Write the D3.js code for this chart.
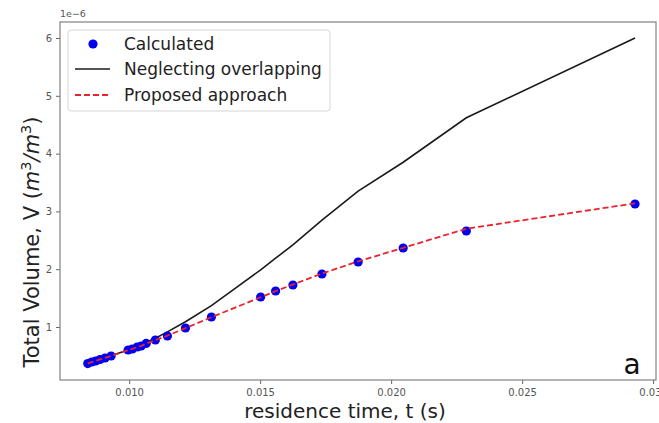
<!DOCTYPE html>
<html><head><meta charset="utf-8">
<script src="https://cdn.jsdelivr.net/npm/d3@7"></script>
<style>
html,body{margin:0;padding:0;background:#fff;}
svg{display:block;font-family:"DejaVu Sans",sans-serif;}
</style></head>
<body><svg id="c" width="659" height="423"></svg>
<script>
// residence time t (s)
const tCalc = [0.00842,0.00857,0.00872,0.00889,0.00908,0.00931,0.00996,0.01012,0.01031,0.01046,0.01065,0.01100,0.01146,0.01215,0.01314,0.01502,0.01559,0.01625,0.01736,0.01874,0.02046,0.02287,0.02931];
// Calculated volume (x1e-6)
const vCalc = [0.368,0.394,0.412,0.438,0.464,0.498,0.602,0.619,0.654,0.671,0.715,0.775,0.844,0.983,1.173,1.519,1.623,1.727,1.917,2.125,2.367,2.661,3.128];
// Proposed approach (x1e-6)
const vProp = [0.368,0.392,0.414,0.438,0.466,0.500,0.600,0.622,0.652,0.674,0.712,0.772,0.850,0.980,1.170,1.515,1.620,1.735,1.925,2.135,2.370,2.700,3.140];
// Neglecting overlapping (x1e-6)
const vNeg = [0.368,0.392,0.414,0.438,0.466,0.500,0.605,0.628,0.662,0.690,0.735,0.805,0.915,1.090,1.370,1.990,2.190,2.420,2.850,3.350,3.850,4.620,6.000];
const xTicks = [0.010,0.015,0.020,0.025,0.030];
const xTickLabels = ["0.010","0.015","0.020","0.025","0.030"];
const yTicks = [1,2,3,4,5,6];
const yTickLabels = ["1","2","3","4","5","6"];
const legendLabels = ["Calculated","Neglecting overlapping","Proposed approach"];

const svg = d3.select("#c");
const L=60,R=656,T=22,B=380;
const x = d3.scaleLinear().domain([0.00736,0.03011]).range([L,R]);
const y = d3.scaleLinear().domain([0.083,6.277]).range([B,T]);

svg.append("clipPath").attr("id","cp").append("rect").attr("x",L).attr("y",T).attr("width",R-L).attr("height",B-T);

const g = svg.append("g").attr("clip-path","url(#cp)");
const line = (vals)=>d3.line().x((d,i)=>x(tCalc[i])).y(d=>y(d))(vals);
g.append("path").attr("d",line(vNeg)).attr("fill","none").attr("stroke","#1a1a1a").attr("stroke-width",1.6);
g.selectAll("circle").data(vCalc).join("circle")
  .attr("cx",(d,i)=>x(tCalc[i])).attr("cy",d=>y(d)).attr("r",4.6).attr("fill","#0000ee");
g.append("path").attr("d",line(vProp)).attr("fill","none").attr("stroke","#e8232d").attr("stroke-width",1.8).attr("stroke-dasharray","6,3");

// axes
const xa = svg.append("g").attr("transform",`translate(0,${B})`)
  .call(d3.axisBottom(x).tickValues(xTicks).tickFormat((d,i)=>xTickLabels[i]).tickSize(4).tickPadding(5));
const ya = svg.append("g").attr("transform",`translate(${L},0)`)
  .call(d3.axisLeft(y).tickValues(yTicks).tickFormat((d,i)=>yTickLabels[i]).tickSize(4).tickPadding(4));
[xa,ya].forEach(a=>{
  a.select(".domain").remove();
  a.selectAll("line").attr("stroke","#666");
  a.selectAll("text").attr("fill","#555").style("font-size","10px").style("font-family","DejaVu Sans");
});
// frame
svg.append("rect").attr("x",L).attr("y",T).attr("width",R-L).attr("height",B-T)
  .attr("fill","none").attr("stroke","#808080").attr("stroke-width",1.2);

svg.append("text").attr("x",L).attr("y",17).attr("fill","#555").style("font-size","9.5px").text("1e\u22126");

// axis labels
svg.append("text").attr("x",345).attr("y",418).attr("text-anchor","middle")
  .style("font-size","20px").attr("fill","#222").text("residence time, t (s)");
const yl = svg.append("text").attr("transform",`translate(39,242) rotate(-90)`).attr("text-anchor","middle")
  .style("font-size","21px").attr("fill","#222");
yl.append("tspan").text("Total Volume, V (");
yl.append("tspan").style("font-style","italic").text("m");
yl.append("tspan").attr("dy",-8).style("font-size","14.5px").text("3");
yl.append("tspan").attr("dy",8).style("font-style","italic").text("/m");
yl.append("tspan").attr("dy",-8).style("font-size","14.5px").text("3");
yl.append("tspan").attr("dy",8).text(")");

// "a" panel label
svg.append("text").attr("x",632).attr("y",374).attr("text-anchor","middle").style("font-size","28px").attr("fill","#111").text("a");

// legend
const lg = svg.append("g");
lg.append("rect").attr("x",68).attr("y",30).attr("width",262).attr("height",81).attr("rx",3)
  .attr("fill","#fff").attr("fill-opacity",0.85).attr("stroke","#d6d6d6");
const ly = [44,69,95];
lg.append("circle").attr("cx",93).attr("cy",ly[0]).attr("r",4.6).attr("fill","#0000ee");
lg.append("line").attr("x1",75).attr("x2",110).attr("y1",ly[1]).attr("y2",ly[1]).attr("stroke","#1a1a1a").attr("stroke-width",1.6);
lg.append("line").attr("x1",75).attr("x2",110).attr("y1",ly[2]).attr("y2",ly[2]).attr("stroke","#e8232d").attr("stroke-width",1.8).attr("stroke-dasharray","6,3");
lg.selectAll("text.l").data(legendLabels).join("text").attr("class","l")
  .attr("x",124).attr("y",(d,i)=>ly[i]+6).style("font-size","17px").attr("fill","#222").text(d=>d);
</script></body></html>
